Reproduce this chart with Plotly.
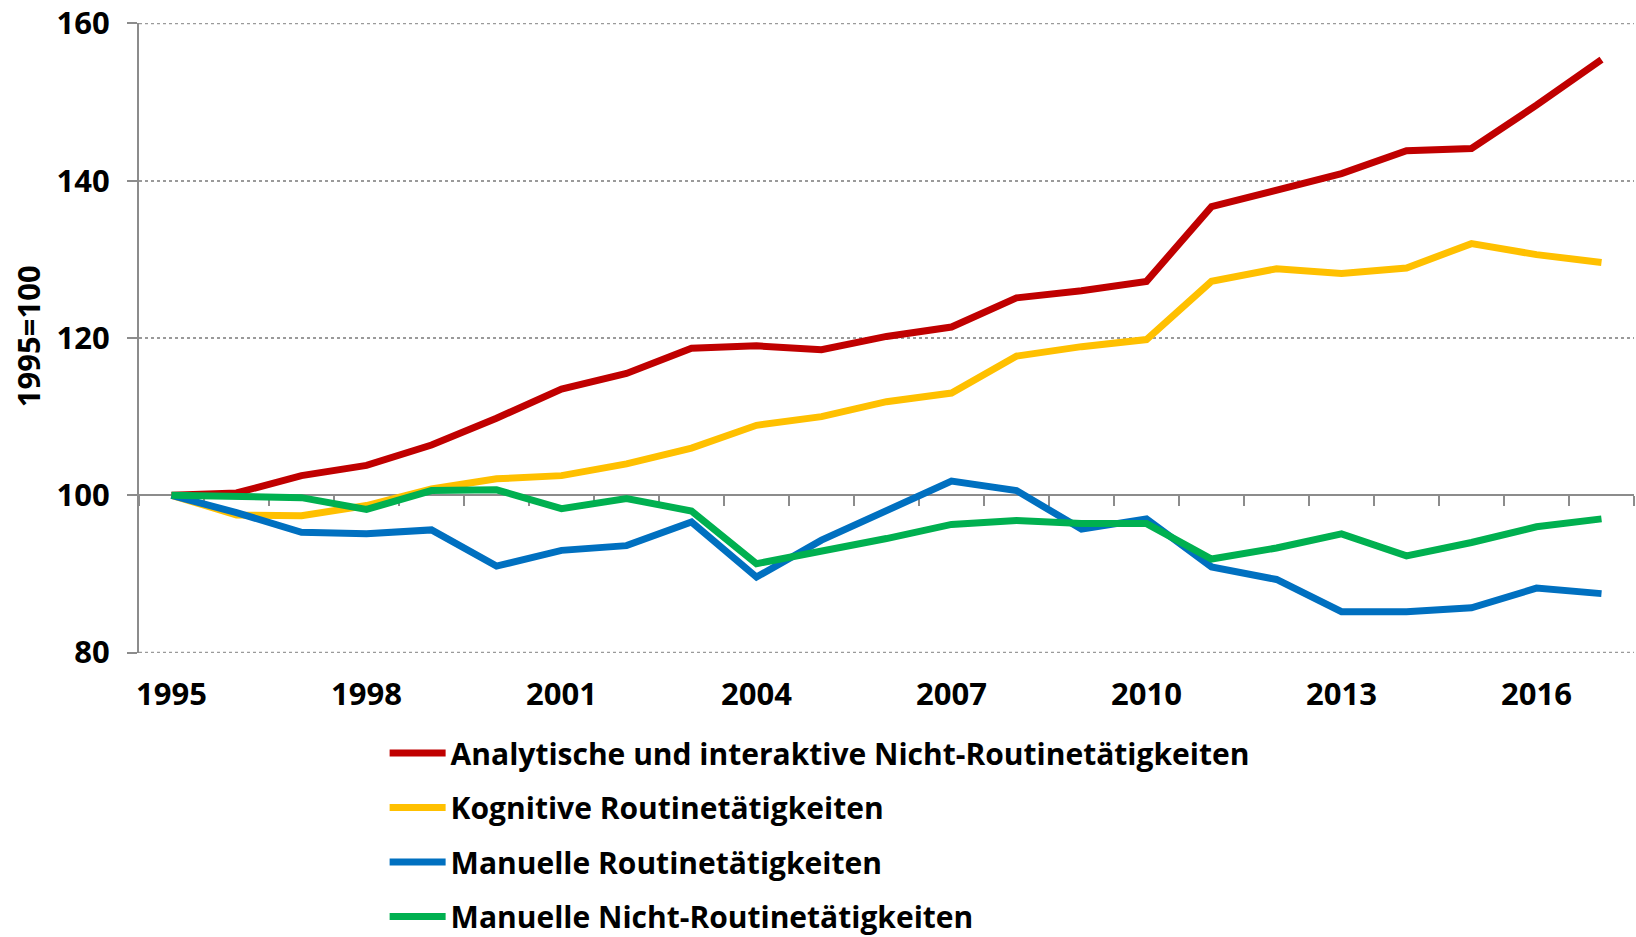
import plotly.graph_objects as go

years = list(range(1995, 2018))
analytisch = [100, 100.3, 102.5, 103.8, 106.4, 109.8, 113.5, 115.5, 118.7, 119.0, 118.5, 120.2,
              121.4, 125.1, 126.0, 127.2, 136.7, 138.8, 140.9, 143.8, 144.1, 149.6, 155.4]
kognitiv = [100, 97.5, 97.4, 98.7, 100.8, 102.1, 102.5, 104.0, 106.0, 108.9, 110.0, 111.9,
            113.0, 117.7, 118.9, 119.8, 127.2, 128.8, 128.2, 128.9, 132.0, 130.6, 129.6]
manuell_routine = [100, 97.8, 95.3, 95.1, 95.6, 91.0, 93.0, 93.6, 96.6, 89.6, 94.3, 98.1,
                   101.8, 100.6, 95.7, 97.0, 90.9, 89.3, 85.2, 85.2, 85.7, 88.2, 87.5]
manuell_nicht = [100, 99.8, 99.7, 98.2, 100.6, 100.7, 98.3, 99.6, 98.0, 91.3, 92.8, 94.5,
                 96.3, 96.8, 96.4, 96.4, 91.9, 93.3, 95.1, 92.3, 94.0, 96.0, 97.0]

names = ["Analytische und interaktive Nicht-Routinetätigkeiten",
         "Kognitive Routinetätigkeiten",
         "Manuelle Routinetätigkeiten",
         "Manuelle Nicht-Routinetätigkeiten"]
colors = ["#C00000", "#FFC000", "#0070C0", "#00B050"]
series = [analytisch, kognitiv, manuell_routine, manuell_nicht]

y_ticks = [80, 100, 120, 140, 160]
x_label_years = [1995, 1998, 2001, 2004, 2007, 2010, 2013, 2016]
y_title = "1995=100"

FONT = "Open Sans"
GRID = "#9A9A9A"
fig = go.Figure()
for i, (nm, col, vals) in enumerate(zip(names, colors, series)):
    fig.add_trace(go.Scatter(
        x=years, y=vals, name=nm, mode="lines",
        line=dict(color=col, width=7),
        legendgroup=f"g{i}",
        xaxis="x2" if i == 3 else "x",
    ))

x_range = [years[0] - 0.5, years[-1] + 0.5]
half_ticks = [y - 0.5 for y in years] + [years[-1] + 0.5]
y_range = [79.95, 160.05]

# dotted gridlines at the range edges (plotly hides edge gridlines)
for v in (y_ticks[0], y_ticks[-1]):
    fig.add_shape(type="line", xref="paper", x0=0, x1=1, yref="y", y0=v, y1=v,
                  line=dict(color=GRID, width=1.5, dash="dot"), layer="below")

# y-axis title
fig.add_annotation(text=y_title, xref="paper", yref="paper", x=-0.0742, y=0.503,
                   xanchor="center", yanchor="middle", textangle=-90, showarrow=False,
                   font=dict(family=FONT, size=31, color="black", weight="bold"))

fig.update_layout(
    width=1636, height=937,
    margin=dict(l=139, r=2, t=23, b=284, autoexpand=False),
    paper_bgcolor="white", plot_bgcolor="white",
    font=dict(family=FONT, size=29, color="black", weight="bold"),
    showlegend=True,
    legend=dict(
        orientation="v", xref="container", yref="container",
        x=0.2351, xanchor="left", y=0.2241, yanchor="top",
        font=dict(family=FONT, size=30, color="black", weight="bold"),
        tracegroupgap=12.5, bgcolor="rgba(0,0,0,0)", itemwidth=56,
    ),
    xaxis=dict(
        range=x_range, tickmode="array", tickvals=x_label_years,
        ticktext=[str(v) for v in x_label_years],
        showline=False, showgrid=False, zeroline=False, ticks="",
        ticklabelstandoff=20, automargin=False,
        tickfont=dict(family=FONT, size=31, color="black", weight="bold"),
    ),
    xaxis2=dict(
        range=x_range, overlaying="x", anchor="free",
        position=(100 - y_range[0]) / (y_range[1] - y_range[0]),
        tickmode="array", tickvals=half_ticks, showticklabels=False,
        showline=True, linecolor="#8C8C8C", linewidth=2,
        ticks="outside", ticklen=10, tickwidth=2, tickcolor="#8C8C8C",
        showgrid=False, zeroline=False, layer="below traces", automargin=False,
    ),
    yaxis=dict(
        range=y_range, tickmode="array", tickvals=y_ticks,
        showline=True, linecolor="#8C8C8C", linewidth=2,
        ticks="outside", ticklen=10, tickwidth=2, tickcolor="#8C8C8C",
        showgrid=True, gridcolor=GRID, gridwidth=1.5, griddash="dot",
        zeroline=False, layer="below traces", automargin=False,
        ticklabelstandoff=11,
        tickfont=dict(family=FONT, size=31, color="black", weight="bold"),
    ),
)

fig.write_html("out.html", include_plotlyjs=True, config={"displayModeBar": False},
               post_script="document.body.style.margin='0';document.body.style.overflow='hidden';")
